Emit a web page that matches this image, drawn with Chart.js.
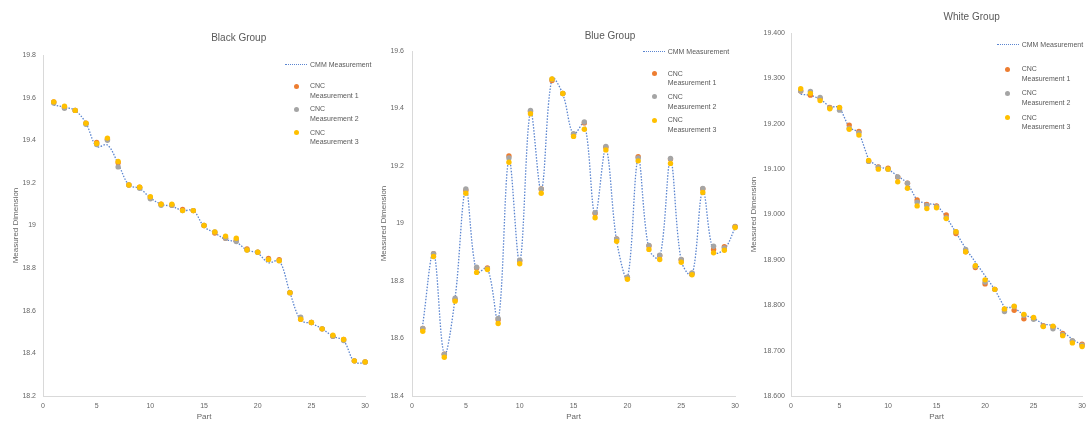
<!DOCTYPE html>
<html>
<head>
<meta charset="utf-8">
<script src="https://cdn.jsdelivr.net/npm/chart.js@4/dist/chart.umd.min.js"></script>
<style>
  html, body { margin: 0; padding: 0; background: #fff; }
  #wrap { position: relative; width: 1092px; height: 421px; overflow: hidden; font-family: "Liberation Sans", Arial, sans-serif; }
  canvas { position: absolute; top: 0; }
  .title { position: absolute; font-size: 10px; color: #595959; transform: translate(-50%, -50%); white-space: nowrap; }
  .leg { position: absolute; font-size: 7px; line-height: 9.5px; color: #595959; white-space: nowrap; }
  .dot { position: absolute; width: 5px; height: 5px; border-radius: 50%; }
  .dash { position: absolute; height: 0; border-top: 1.3px dotted #5b85d0; }
</style>
</head>
<body>
<div id="wrap">
  <canvas id="black" width="375" height="421" style="left:0"></canvas>
  <canvas id="blue" width="370" height="421" style="left:375px"></canvas>
  <canvas id="white" width="347" height="421" style="left:745px"></canvas>
</div>
<script>
// ---- data ----
const parts = [1,2,3,4,5,6,7,8,9,10,11,12,13,14,15,16,17,18,19,20,21,22,23,24,25,26,27,28,29,30];
const seriesNames = ['CMM Measurement', 'CNC Measurement 1', 'CNC Measurement 2', 'CNC Measurement 3'];

const blackCmm = [19.565,19.555,19.54,19.48,19.37,19.378,19.29,19.19,19.174,19.13,19.1,19.09,19.07,19.07,18.995,18.965,18.935,18.922,18.885,18.87,18.825,18.835,18.685,18.556,18.54,18.515,18.48,18.46,18.36,18.355];
const blackCnc1 = [19.58,19.555,19.54,19.48,19.39,19.405,19.295,19.19,19.18,19.13,19.1,19.095,19.075,19.07,19.0,18.965,18.94,18.93,18.89,18.875,18.845,18.84,18.685,18.56,18.545,18.515,18.48,18.465,18.365,18.36];
const blackCnc2 = [19.575,19.55,19.54,19.475,19.38,19.4,19.275,19.19,19.175,19.125,19.095,19.095,19.07,19.07,19.0,18.97,18.94,18.925,18.885,18.875,18.84,18.835,18.685,18.57,18.545,18.515,18.48,18.46,18.365,18.36];
const blackCnc3 = [19.58,19.56,19.54,19.48,19.385,19.41,19.3,19.19,19.18,19.135,19.1,19.1,19.07,19.07,19.0,18.97,18.95,18.94,18.885,18.875,18.84,18.835,18.685,18.56,18.545,18.515,18.485,18.465,18.365,18.36];

const blueCmm = [18.65,18.9,18.545,18.74,19.12,18.83,18.845,18.66,19.225,18.865,19.39,19.115,19.505,19.45,19.31,19.35,19.03,19.26,18.94,18.81,19.225,18.91,18.88,19.22,18.87,18.82,19.115,18.9,18.91,18.985];
const blueCnc1 = [18.635,18.895,18.545,18.735,19.115,18.845,18.845,18.665,19.235,18.87,19.39,19.12,19.497,19.452,19.31,19.35,19.035,19.265,18.946,18.812,19.232,18.922,18.888,19.224,18.874,18.826,19.12,18.91,18.919,18.99];
const blueCnc2 = [18.635,18.895,18.545,18.74,19.12,18.848,18.843,18.67,19.228,18.872,19.393,19.12,19.502,19.452,19.312,19.353,19.038,19.268,18.946,18.813,19.228,18.924,18.89,19.226,18.875,18.828,19.122,18.921,18.915,18.989];
const blueCnc3 = [18.625,18.885,18.535,18.73,19.105,18.83,18.84,18.652,19.213,18.86,19.382,19.105,19.503,19.452,19.303,19.328,19.02,19.256,18.938,18.806,19.218,18.91,18.875,19.209,18.865,18.822,19.108,18.898,18.907,18.986];

const whiteCmm = [19.265,19.263,19.255,19.237,19.238,19.19,19.183,19.12,19.105,19.1,19.085,19.07,19.03,19.024,19.022,18.995,18.96,18.925,18.895,18.865,18.835,18.795,18.795,18.778,18.772,18.758,18.756,18.742,18.725,18.712];
const whiteCnc1 = [19.272,19.263,19.256,19.236,19.235,19.197,19.183,19.118,19.105,19.102,19.082,19.069,19.032,19.022,19.019,18.999,18.958,18.918,18.883,18.847,18.835,18.79,18.789,18.77,18.771,18.755,18.752,18.738,18.721,18.714];
const whiteCnc2 = [19.272,19.271,19.258,19.235,19.23,19.19,19.18,19.117,19.104,19.1,19.083,19.069,19.027,19.02,19.017,18.993,18.962,18.923,18.886,18.851,18.835,18.786,18.797,18.778,18.769,18.754,18.748,18.735,18.722,18.712];
const whiteCnc3 = [19.277,19.267,19.251,19.233,19.236,19.188,19.175,19.119,19.1,19.1,19.072,19.058,19.019,19.013,19.015,18.991,18.962,18.918,18.887,18.856,18.835,18.792,18.798,18.78,18.773,18.753,18.754,18.733,18.717,18.709];

const xTicks = ['0','5','10','15','20','25','30'];
const blackYTicks = ['18.2','18.4','18.6','18.8','19','19.2','19.4','19.6','19.8'];
const blueYTicks = ['18.4','18.6','18.8','19','19.2','19.4','19.6'];
const whiteYTicks = ['18.600','18.700','18.800','18.900','19.000','19.100','19.200','19.300','19.400'];

// ---- styles ----
const FONT = 'Liberation Sans';
const TEXT = '#666';
const AXIS = '#d9d9d9';
const LINE = '#5b85d0';
const COLORS = ['#ED7D31', '#A5A5A5', '#FFC000'];

function tickSetter(labels) {
  return s => { s.ticks = labels.map(t => ({ value: parseFloat(t) })); };
}

function makeChart(id, title, cmm, cncs, yTicks, lay) {
  const pts = arr => parts.map((p, i) => ({ x: p, y: arr[i] }));
  const datasets = [{
    label: seriesNames[0],
    data: pts(cmm),
    borderColor: LINE,
    borderWidth: 1.3,
    borderDash: [1.5, 1.5],
    pointRadius: 0,
    tension: lay.tension,
    fill: false,
    clip: false,
    order: 3
  }];
  cncs.forEach((arr, k) => {
    datasets.push({
      label: seriesNames[k + 1],
      data: pts(arr),
      showLine: false,
      pointRadius: 2.7,
      pointBorderWidth: 0,
      pointBackgroundColor: COLORS[k],
      borderColor: COLORS[k],
      clip: false,
      order: 2 - k
    });
  });

  new Chart(document.getElementById(id), {
    type: 'line',
    data: { datasets },
    options: {
      responsive: false,
      animation: false,
      events: [],
      layout: { padding: { top: lay.top, right: lay.right, left: 0, bottom: 0 } },
      plugins: { legend: { display: false }, tooltip: { enabled: false } },
      scales: {
        x: {
          type: 'linear',
          min: 0, max: 30,
          afterBuildTicks: tickSetter(xTicks),
          grid: { display: false, drawTicks: false },
          border: { color: AXIS, width: 1 },
          ticks: { padding: 6, color: TEXT, font: { family: FONT, size: 7 }, callback: (v, i) => xTicks[i] },
          title: { display: true, text: 'Part', color: TEXT, font: { family: FONT, size: 8 }, padding: { top: 0, bottom: -1 } },
          afterFit: s => { s.height = 25; }
        },
        y: {
          type: 'linear',
          min: parseFloat(yTicks[0]), max: parseFloat(yTicks[yTicks.length - 1]),
          afterBuildTicks: tickSetter(yTicks),
          grid: { display: false, drawTicks: false },
          border: { color: AXIS, width: 1 },
          ticks: { padding: lay.tickPad, color: TEXT, font: { family: FONT, size: 7 }, callback: (v, i) => yTicks[i] },
          title: { display: true, text: 'Measured Dimension', color: TEXT, font: { family: FONT, size: 8 }, padding: { top: lay.titlePad, bottom: 0 } },
          afterFit: s => { s.width = lay.yWidth; }
        }
      }
    }
  });

  // title and legend as page text
  const wrap = document.getElementById('wrap');
  const t = document.createElement('div');
  t.className = 'title';
  t.style.left = lay.titleX + 'px';
  t.style.top = lay.titleY + 'px';
  t.textContent = title;
  wrap.appendChild(t);

  const L = lay.legend;
  const dash = document.createElement('div');
  dash.className = 'dash';
  dash.style.left = L.lineX + 'px';
  dash.style.width = (L.textX - L.lineX - 3) + 'px';
  dash.style.top = (L.y0 - 0.6) + 'px';
  wrap.appendChild(dash);
  const first = document.createElement('div');
  first.className = 'leg';
  first.style.left = L.textX + 'px';
  first.style.top = (L.y0 - 4.75) + 'px';
  first.textContent = seriesNames[0];
  wrap.appendChild(first);

  for (let k = 0; k < 3; k++) {
    const y = L.y1 + k * L.gap;
    const d = document.createElement('div');
    d.className = 'dot';
    d.style.background = COLORS[k];
    d.style.left = (L.dotX - 2.5) + 'px';
    d.style.top = (y - 2.5) + 'px';
    wrap.appendChild(d);
    const tx = document.createElement('div');
    tx.className = 'leg';
    tx.style.left = L.textX + 'px';
    tx.style.top = (y - 4.75) + 'px';
    tx.innerHTML = seriesNames[k + 1].replace(' ', '<br>');
    wrap.appendChild(tx);
  }
}

makeChart('black', 'Black Group', blackCmm, [blackCnc1, blackCnc2, blackCnc3], blackYTicks, {
  top: 55, right: 7, yWidth: 43, tickPad: 7, titlePad: 10.5, tension: 0.35,
  titleX: 238.7, titleY: 37,
  legend: { lineX: 285, textX: 310, dotX: 296.7, y0: 64.7, y1: 86, gap: 23.2 }
});
makeChart('blue', 'Blue Group', blueCmm, [blueCnc1, blueCnc2, blueCnc3], blueYTicks, {
  top: 51, right: 7, yWidth: 37, tickPad: 8, titlePad: 3.5, tension: 0.35,
  titleX: 610, titleY: 35,
  legend: { lineX: 643, textX: 667.7, dotX: 654, y0: 51.3, y1: 73.7, gap: 23.2 }
});
makeChart('white', 'White Group', whiteCmm, [whiteCnc1, whiteCnc2, whiteCnc3], whiteYTicks, {
  top: 33, right: 4, yWidth: 46, tickPad: 6, titlePad: 3.5, tension: 0,
  titleX: 971.7, titleY: 15.7,
  legend: { lineX: 997, textX: 1021.7, dotX: 1007.7, y0: 45, y1: 69, gap: 24.2 }
});
</script>
</body>
</html>
